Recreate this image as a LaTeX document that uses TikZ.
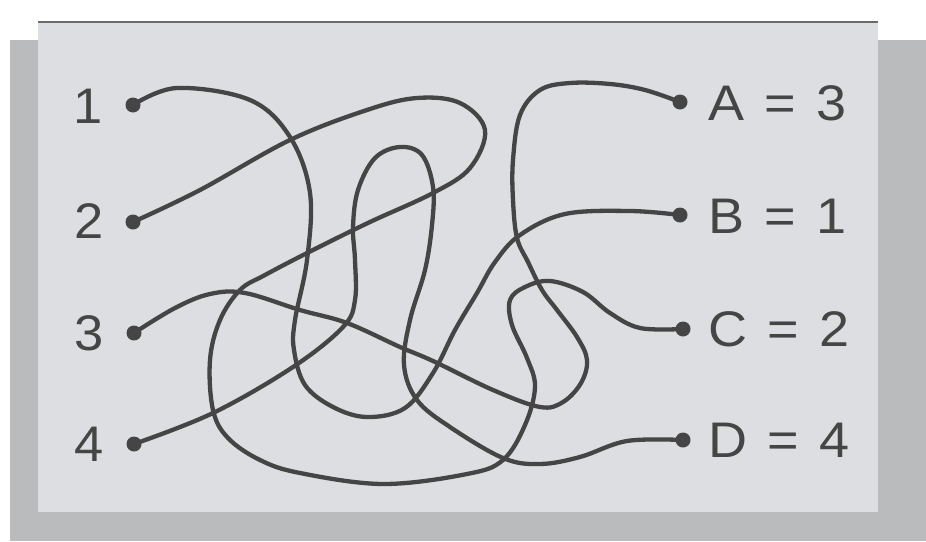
\documentclass[tikz,border=0pt]{standalone}
\usepackage{fontspec}
\setmainfont{Liberation Sans}[WordSpace=1.35]
\definecolor{panelc}{HTML}{DDDEE1}
\definecolor{shadowc}{HTML}{BABBBD}
\definecolor{inkc}{HTML}{454545}
\begin{document}
\begin{tikzpicture}[x=1pt,y=-1pt,
  wire/.style={draw=inkc,line width=4.3pt,line cap=round,line join=round},
  dotn/.style={circle,fill=inkc,inner sep=0pt,minimum size=15pt},
  numlab/.style={anchor=east,text=inkc,font=\fontsize{50}{50}\selectfont,inner sep=0pt,xscale=1.05},
  letlab/.style={anchor=west,text=inkc,font=\fontsize{50}{50}\selectfont,inner sep=0pt,xscale=1.08}]
\useasboundingbox (0,0) rectangle (926,541);
\fill[white] (0,0) rectangle (926,541);
\fill[shadowc] (10,40) rectangle (926,541);
\fill[panelc] (38,22) rectangle (878,512);
\draw[inkc!80,line width=1.2pt] (38,22) -- (878,22);
% dots
\node[dotn] (d1) at (133,105) {};
\node[dotn] (d2) at (133,222) {};
\node[dotn] (d3) at (134,333) {};
\node[dotn] (d4) at (134,444) {};
\node[dotn] (dA) at (680,102) {};
\node[dotn] (dB) at (680,215) {};
\node[dotn] (dC) at (683,329) {};
\node[dotn] (dD) at (683,440) {};
% labels
\node[numlab] (l1) at (103,106) {1};
\node[numlab] (l2) at (104,221) {2};
\node[numlab] (l3) at (104,333) {3};
\node[numlab] (l4) at (104,444) {4};
\node[letlab] (lA) at (708,103) {A = 3};
\node[letlab] (lB) at (708,216) {B = 1};
\node[letlab] (lC) at (708,329) {C = 2};
\node[letlab] (lD) at (708,440) {D = 4};
% curve 1 -> B
\draw[wire] plot[smooth,tension=0.6] coordinates {(d1) (177,88) (250,100) (290,137) (310,193) (307,260) (295,320) (294,350) (305,385) (333,407) (367,417) (405,408) (433,373) (455,330) (477,293) (495,262) (520,235) (565,214) (630,211) (dB)};
% curve 2 -> C
\draw[wire] plot[smooth,tension=0.6] coordinates {(d2) (200,190) (290,140) (367,110) (417,98) (460,103) (485,130) (470,168) (433,193) (370,222) (313,250) (265,275) (240,290) (220,320) (210,360) (213,410) (228,438) (260,460) (300,473) (383,484) (467,474) (503,460) (525,425) (535,387) (527,358) (512,325) (510,300) (525,287) (550,281) (583,292) (610,313) (640,328) (dC)};
% curve 3 -> A
\draw[wire] plot[smooth,tension=0.6] coordinates {(d3) (175,308) (210,294) (245,293) (300,310) (347,323) (400,347) (433,361) (493,390) (540,407) (563,402) (581,383) (587,360) (577,337) (557,310) (542,290) (528,262) (517,238) (513,200) (513,160) (520,115) (540,90) (570,83) (610,84) (645,90) (dA)};
% curve 4 -> D
\draw[wire] plot[smooth,tension=0.6] coordinates {(d4) (213,413) (293,367) (343,327) (355,300) (355,260) (353,227) (358,190) (375,158) (400,147) (422,155) (433,187) (432,225) (425,270) (410,320) (404,365) (417,400) (450,427) (503,458) (540,464) (580,457) (627,441) (dD)};
\end{tikzpicture}
\end{document}
